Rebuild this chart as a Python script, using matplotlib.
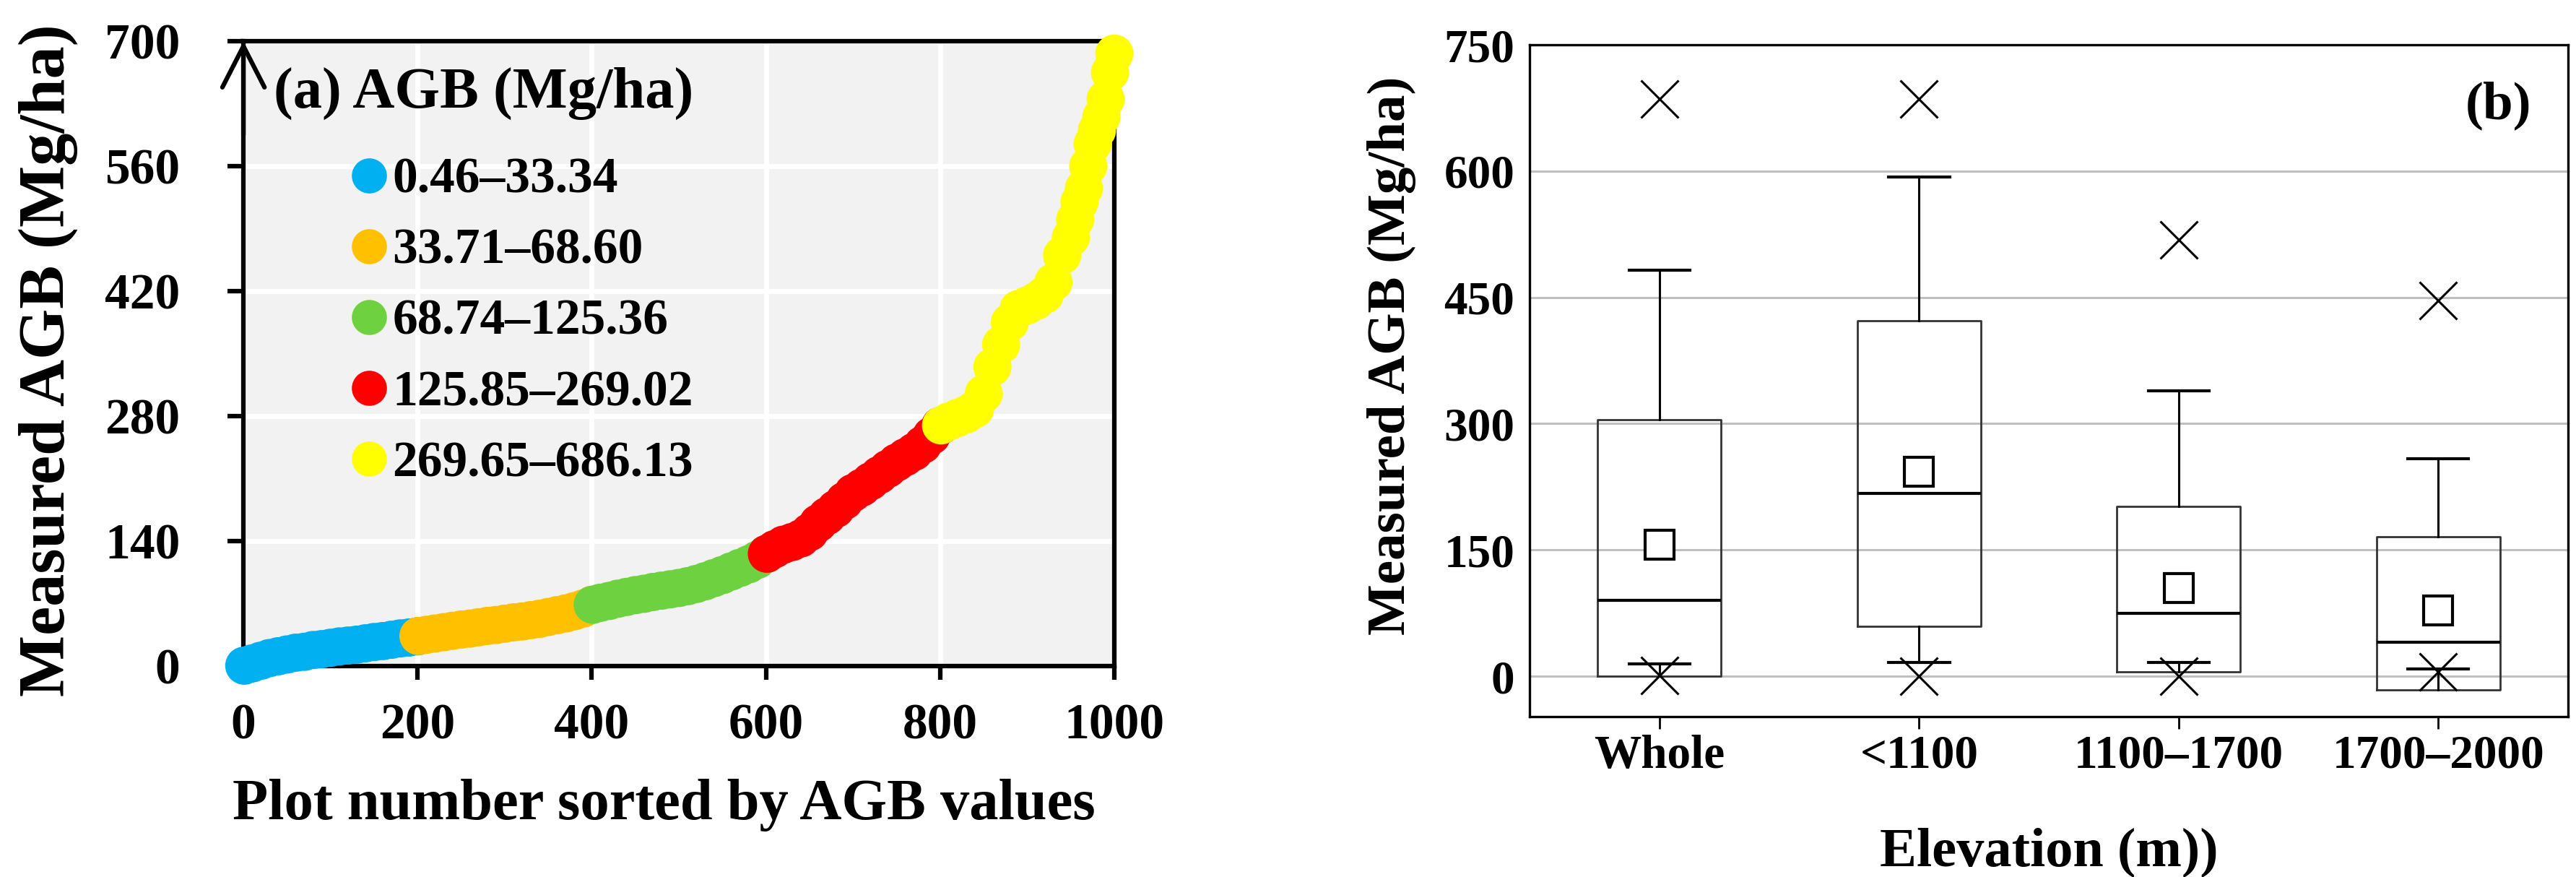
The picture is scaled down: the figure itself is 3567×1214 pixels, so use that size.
import matplotlib
matplotlib.use("Agg")
import matplotlib.pyplot as plt
from matplotlib.lines import Line2D

plt.rcParams['font.family'] = ['Liberation Serif', 'DejaVu Serif']
plt.rcParams['font.weight'] = 'bold'

### panel (a): plots sorted by AGB, coloured by AGB class
plot_blue = [1, 10, 20, 30, 40, 50, 60, 70, 80, 90, 100, 110, 120, 130, 140, 150, 160, 170, 180, 190, 200]
agb_blue = [0.46, 3, 6, 9, 11, 13, 15, 16, 18, 19, 20.5, 22, 23, 24, 25.5, 27, 28, 29.5, 31, 32, 33.34]
plot_orange = [201, 210, 220, 230, 240, 250, 260, 270, 280, 290, 300, 310, 320, 330, 340, 350, 360, 370, 380, 390, 400]
agb_orange = [33.71, 35, 36.5, 38, 39.5, 41, 42, 43.5, 45, 46, 47.5, 49, 50, 51.5, 53, 55, 57, 59, 61.5, 64.5, 68.6]
plot_green = [401, 410, 420, 430, 440, 450, 460, 470, 480, 490, 500, 510, 520, 530, 540, 550, 560, 570, 580, 590, 600]
agb_green = [68.74, 71, 73, 75.5, 77.5, 79.5, 81, 83, 84.5, 86, 87.5, 89.5, 92, 95, 98.5, 102, 106, 110, 114, 119, 125.36]
plot_red = [601, 610, 620, 630, 640, 650, 660, 670, 680, 690, 700, 710, 720, 730, 740, 750, 760, 770, 780, 790, 800]
agb_red = [125.85, 131, 136, 139, 143, 150, 160, 168, 176, 185, 194, 200, 207, 214, 221, 228, 234, 240, 248, 258, 269.02]
plot_yellow = [801, 810, 820, 830, 840, 850, 860, 870, 880, 890, 900, 910, 920, 930, 940, 950, 955,
               960, 965, 970, 975, 980, 985, 990, 995, 1000]
agb_yellow = [269.65, 274, 278, 282, 288, 305, 335, 360, 385, 400, 404, 409, 416, 430, 460, 480, 500,
              520, 535, 560, 585, 600, 615, 635, 665, 686.13]

class_labels = ['0.46–33.34', '33.71–68.60', '68.74–125.36', '125.85–269.02', '269.65–686.13']
class_colors = ['#00B0F0', '#FFC000', '#6ED13F', '#FF0000', '#FFFF00']

### panel (b): box plot stats by elevation zone
zones = ['Whole', '<1100', '1100–1700', '1700–2000']
q1 = [0, 59, 5, -16]
median = [90, 217, 75, 40]
q3 = [305, 422, 202, 166]
whis_lo = [15, 16, 16, 9]
whis_hi = [482, 593, 339, 258]
mean = [156, 243, 105, 78]
agb_max = [686, 686, 518, 446]
agb_min = [1, 0, 0, 5]

fig = plt.figure(figsize=(35.67, 12.14), dpi=100)

# ---- (a)
axa = fig.add_axes([0.0945, 0.2405, 0.3381, 0.7125])
axa.set_facecolor('#F2F2F2')
series = [(plot_blue, agb_blue), (plot_orange, agb_orange), (plot_green, agb_green),
          (plot_red, agb_red), (plot_yellow, agb_yellow)]
for (px, py), c in zip(series, class_colors):
    axa.scatter(px, py, s=1450, color=c, edgecolors='none', zorder=3, clip_on=False)

axa.set_xlim(0, 1000)
axa.set_ylim(0, 700)
axa.set_xticks(range(0, 1001, 200))
axa.set_yticks(range(0, 701, 140))
axa.grid(True, color='white', lw=5)
axa.set_axisbelow(True)
for sp in axa.spines.values():
    sp.set_linewidth(4.5)
    sp.set_color('black')
axa.tick_params(axis='y', direction='out', length=16, width=4.5, pad=47, labelsize=50)
axa.tick_params(axis='x', direction='out', length=14, width=4.5, pad=23, labelsize=50)
axa.set_xlabel('Plot number sorted by AGB values', fontsize=58, fontweight='bold')
axa.xaxis.set_label_coords(0.483, -0.18)
axa.set_ylabel('Measured AGB (Mg/ha)', fontsize=65, fontweight='bold')
axa.yaxis.set_label_coords(-0.19, 0.49)
axa.annotate('', xy=(0, 1), xycoords='axes fraction', xytext=(0, 0.85),
             arrowprops=dict(arrowstyle='->,head_length=2.05,head_width=1.05', lw=4.5,
                             color='black', mutation_scale=20, shrinkA=0, shrinkB=0),
             annotation_clip=False, zorder=4)
axa.text(0.035, 0.894, '(a) AGB (Mg/ha)', transform=axa.transAxes, fontsize=58,
         fontweight='bold', ha='left', va='baseline')
handles = [Line2D([], [], ls='none', marker='o', ms=35, color=c, mec='none') for c in class_colors]
axa.legend(handles, class_labels, loc='upper left', bbox_to_anchor=(0.124, 0.814),
           frameon=False, borderpad=0, borderaxespad=0, handlelength=0.7, handletextpad=0.12,
           labelspacing=0.49, prop={'size': 50, 'weight': 'bold'})

# ---- (b)
axb = fig.add_axes([0.5938, 0.1829, 0.4031, 0.766])
stats = []
for i, z in enumerate(zones):
    stats.append(dict(label=z, q1=q1[i], med=median[i], q3=q3[i], whislo=whis_lo[i],
                      whishi=whis_hi[i], mean=mean[i], fliers=[agb_max[i], agb_min[i]]))
axb.bxp(stats, positions=range(len(zones)), widths=0.475, capwidths=0.235, showmeans=True,
        boxprops=dict(color='#333333', lw=2),
        medianprops=dict(color='black', lw=3),
        whiskerprops=dict(color='black', lw=2.2),
        capprops=dict(color='black', lw=3),
        meanprops=dict(marker='s', mfc='white', mec='black', ms=29, mew=3),
        flierprops=dict(marker='x', ms=37, mew=2.2, mec='black'))
axb.set_xlim(-0.5, 3.5)
axb.set_ylim(-48, 750)
axb.set_yticks(range(0, 751, 150))
axb.yaxis.grid(True, color='#BFBFBF', lw=2.2)
axb.set_axisbelow(True)
for sp in axb.spines.values():
    sp.set_linewidth(2.4)
    sp.set_color('black')
axb.tick_params(axis='y', length=0, pad=15, labelsize=47)
axb.tick_params(axis='x', direction='out', length=12, width=2, pad=6, labelsize=47)
axb.set_xlabel('Elevation (m))', fontsize=55, fontweight='bold')
axb.xaxis.set_label_coords(0.5, -0.165)
axb.set_ylabel('Measured AGB (Mg/ha)', fontsize=54, fontweight='bold')
axb.yaxis.set_label_coords(-0.109, 0.537)
axb.text(0.9645, 0.91, '(b)', transform=axb.transAxes, fontsize=54, fontweight='bold',
         ha='right', va='center')

fig.savefig('out.png', dpi=100)
